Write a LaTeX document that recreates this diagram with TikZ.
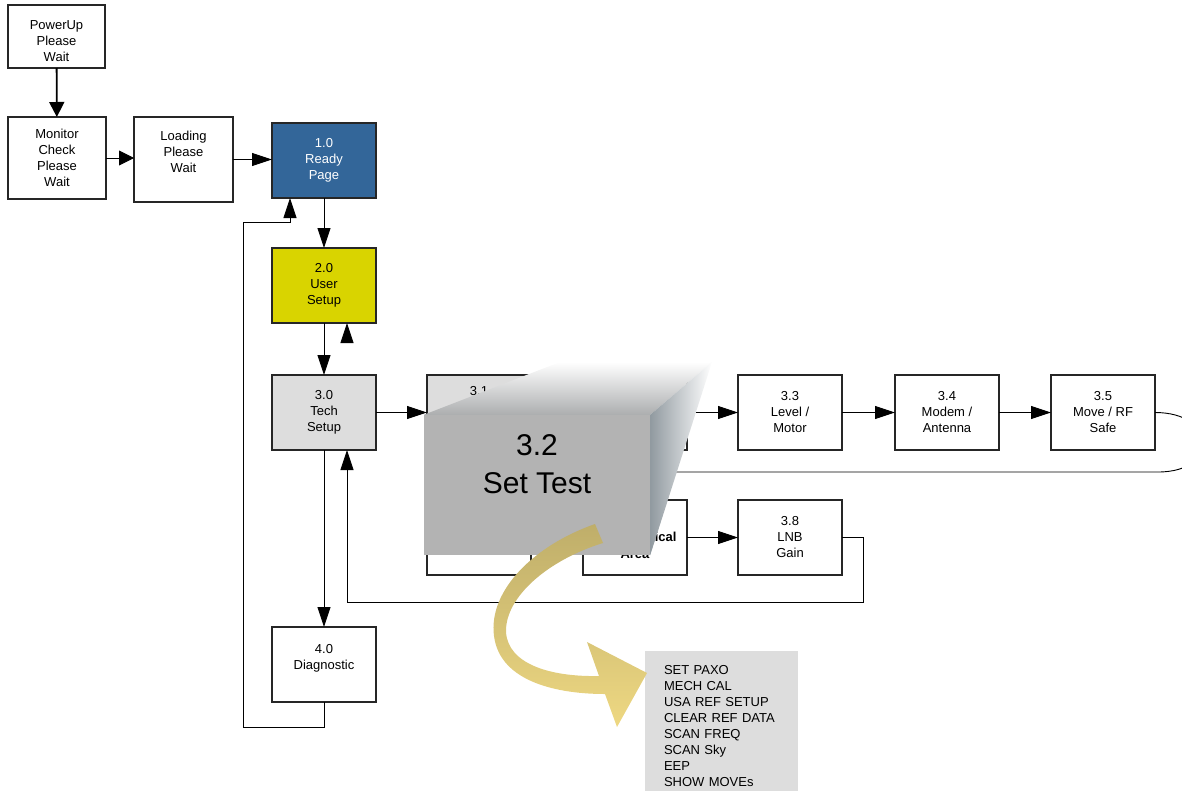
\documentclass[tikz,border=0pt]{standalone}
\usepackage{fontspec}
\setmainfont{Liberation Sans}
\usetikzlibrary{arrows.meta, positioning}

\definecolor{readyblue}{RGB}{51,102,153}
\definecolor{useryellow}{RGB}{217,212,0}
\definecolor{techgray}{RGB}{221,221,221}
\definecolor{zoomgray}{RGB}{179,179,179}
\definecolor{zoomedge}{RGB}{145,154,160}
\definecolor{khaki}{RGB}{191,174,106}
\definecolor{paleyellow}{RGB}{238,216,130}

\begin{document}
\begin{tikzpicture}[
    x=1pt, y=-1pt,
    font=\fontsize{13}{16}\selectfont,
    screen/.style={draw=black!85, line width=1.3pt, fill=white, align=center,
                   minimum width=104pt, minimum height=75pt, inner sep=0pt,
                   outer sep=0pt},
    flow/.style={-{Triangle[length=20pt,width=13pt]}, line width=0.9pt},
    bootflow/.style={-{Triangle[length=15pt,width=15pt]}, line width=0.9pt},
    listbox/.style={fill=techgray, align=left, text width=115pt,
                    inner xsep=19pt, minimum height=151pt},
    zoomface/.style={fill=zoomgray, minimum width=226pt, minimum height=140pt,
                     inner sep=0pt},
]
\useasboundingbox (0,0) rectangle (1182,790);

% --- start-up screens ---
\node[screen, minimum width=97pt, minimum height=63pt] (power) at (56.5,36.5)
    {\mbox{}\\[3pt]PowerUp\\Please\\Wait};
\node[screen, minimum width=98pt, minimum height=82pt] (monitor) at (57,158)
    {Monitor\\Check\\Please\\Wait};
\node[screen, minimum width=99pt, minimum height=85pt] (loading) at (183.5,159.5)
    {Loading\\Please\\Wait\\\mbox{}};

% --- main column ---
\node[screen, fill=readyblue, text=white] (ready) at (324,160.5) {1.0\\Ready\\Page};
\node[screen, fill=useryellow, below=50pt of ready] (user) {2.0\\User\\Setup};
\node[screen, fill=techgray, below=52pt of user] (tech) {3.0\\Tech\\Setup};
\node[screen, below=177pt of tech] (diag) {4.0\\Diagnostic\\\mbox{}};

% --- tech setup pages ---
\node[screen, fill=techgray, right=51pt of tech] (s31) {};
\node at ([yshift=-16pt]s31.north) {3.1};
\node[screen, right=52pt of s31] (s32) {};
\node[screen, right=51pt of s32] (s33) {3.3\\Level /\\Motor};
\node[screen, right=53pt of s33] (s34) {3.4\\Modem /\\Antenna};
\node[screen, right=52pt of s34] (s35) {3.5\\Move / RF\\Safe};
\node[screen, below=50pt of s31] (s36) {};
\node[screen, below=50pt of s32] (s37) {};
\node[font=\fontsize{13}{17}\selectfont\bfseries, align=center]
    at ([yshift=-8pt]s37.center) {Geographical\\Area};
\node[screen, below=50pt of s33] (s38) {3.8\\LNB\\Gain};

% --- connectors ---
\draw[bootflow, line width=1.8pt] (power) -- (monitor);
\draw[bootflow] (monitor.east) -- (monitor.east -| loading.west);
\draw[flow] (loading.east) -- (loading.east -| ready.west);
\draw[flow] (ready) -- (user);
\draw[flow] (user) -- (tech);
\coordinate (ustub) at (347,340);
\draw[flow] (ustub) -- (ustub |- user.south);
\draw[flow] (tech.east) -- (tech.east -| s31.west);
\draw[flow] (s31) -- (s32);
\draw[flow] (s32) -- (s33);
\draw[flow] (s33) -- (s34);
\draw[flow] (s34) -- (s35);
\coordinate (back35) at (1158,472);
\coordinate (back36) at (479,472);
\draw[flow] (s35.east) .. controls +(62,0) and +(62,0) .. (back35)
    -- (back36) -- (s36.north);
\draw[flow] (s36) -- (s37);
\draw[flow] (s37) -- (s38);
\coordinate (ret) at (863,602);
\draw[flow] (s38.east) -| (ret) -| ([xshift=23pt]tech.south);
\draw[flow] (tech) -- (diag);
\coordinate (diagloop) at (243,222);
\draw[flow] (diag.south) -- ++(0,25) -| (diagloop) -| ([xshift=-34pt]ready.south);

% --- zoomed 3.2 page ---
\node[zoomface] (zoom) at (537,485) {};
\shade[top color=white, bottom color=zoomgray!80!zoomedge]
    (zoom.north west) -- (zoom.north east) -- (712,362) -- (560,362) -- cycle;
\shade[left color=zoomedge, right color=white]
    (zoom.north east) -- (712,362) -- (zoom.south east) -- cycle;
\node[font=\fontsize{30}{38}\selectfont, align=center] (ztitle) at (537,464)
    {3.2\\Set Test};

% --- menu list ---
\node[listbox] (menu) at (721.5,726.5)
    {SET PAXO\\MECH CAL\\USA REF SETUP\\CLEAR REF DATA\\SCAN FREQ\\SCAN Sky\\EEP\\SHOW MOVEs};

% --- curled arrow ---
\shade[top color=khaki, bottom color=paleyellow]
    (595,524) .. controls (535,545) and (488,590) .. (494,636)
    .. controls (500,683) and (560,694) .. (605,694)
    -- (617,727) -- (647,673) -- (587,642) -- (599,676)
    .. controls (550,677) and (508,664) .. (506,632)
    .. controls (505,597) and (548,560) .. (603,543) -- cycle;

\end{tikzpicture}
\end{document}
